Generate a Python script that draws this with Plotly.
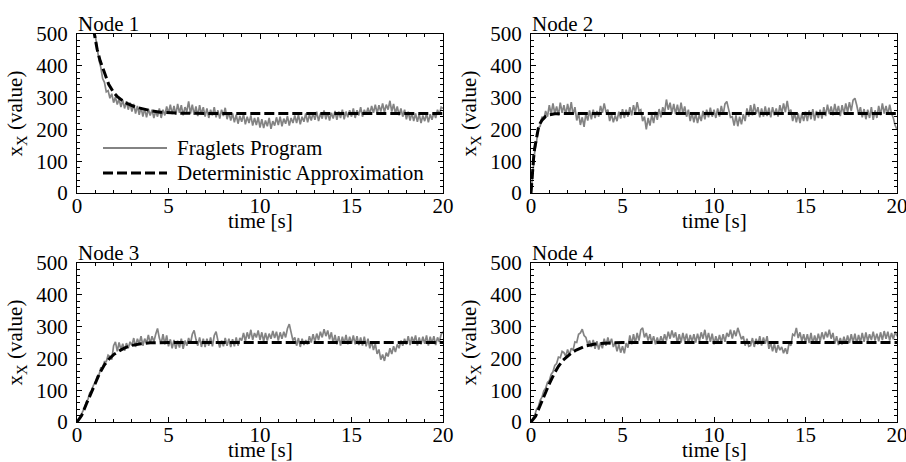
import plotly.graph_objects as go
from plotly.subplots import make_subplots

# sample times of the Fraglets program traces (0.1 s steps)
t_fraglets = [i / 10 for i in range(201)]

fraglets_node1 = [
    1000, 940, 880, 830, 780, 730, 680, 630, 580, 535,
    490, 458, 418, 395, 360, 348, 318, 322, 298, 312,
    284, 302, 278, 296, 270, 292, 266, 288, 262, 284,
    256, 280, 250, 274, 246, 270, 240, 266, 238, 264,
    244, 262, 236, 258, 240, 266, 236, 262, 244, 272,
    250, 278, 248, 274, 246, 280, 252, 276, 244, 270,
    256, 288, 250, 278, 246, 272, 242, 276, 248, 270,
    240, 266, 236, 262, 244, 270, 238, 260, 234, 262,
    242, 268, 232, 254, 228, 250, 222, 246, 218, 242,
    224, 248, 216, 240, 220, 244, 212, 236, 214, 238,
    206, 232, 204, 228, 210, 236, 202, 226, 212, 238,
    214, 240, 210, 234, 218, 242, 212, 236, 220, 244,
    220, 246, 216, 240, 224, 250, 222, 246, 228, 252,
    230, 256, 226, 250, 234, 260, 232, 254, 228, 252,
    234, 258, 230, 256, 236, 262, 232, 256, 238, 260,
    240, 266, 236, 260, 244, 270, 240, 262, 246, 268,
    248, 274, 252, 278, 250, 276, 256, 282, 254, 278,
    262, 290, 256, 280, 250, 272, 244, 266, 240, 262,
    232, 256, 228, 252, 226, 250, 224, 248, 220, 244,
    226, 250, 222, 248, 230, 254, 236, 262, 246, 270,
    266,
]

fraglets_node2 = [
    0, 60, 128, 160, 205, 210, 240, 232, 258, 240,
    276, 248, 282, 250, 272, 244, 284, 252, 276, 246,
    280, 250, 286, 246, 270, 228, 250, 214, 238, 208,
    250, 228, 260, 232, 262, 236, 258, 240, 274, 252,
    282, 254, 262, 226, 248, 222, 244, 226, 256, 234,
    264, 236, 262, 240, 270, 244, 276, 252, 286, 258,
    262, 226, 240, 200, 236, 212, 246, 220, 256, 230,
    264, 238, 270, 252, 294, 262, 284, 250, 280, 248,
    278, 246, 284, 250, 272, 240, 262, 226, 252, 222,
    250, 220, 246, 226, 258, 232, 262, 238, 268, 240,
    262, 236, 266, 240, 274, 246, 280, 288, 262, 238,
    240, 212, 244, 210, 240, 216, 248, 226, 266, 240,
    276, 244, 280, 248, 270, 238, 266, 240, 272, 242,
    268, 238, 270, 244, 266, 240, 276, 250, 282, 254,
    290, 254, 262, 226, 252, 222, 250, 220, 250, 226,
    256, 226, 260, 232, 264, 228, 258, 236, 262, 234,
    270, 242, 278, 248, 272, 244, 280, 250, 274, 242,
    276, 248, 282, 254, 286, 258, 292, 298, 276, 248,
    270, 238, 264, 232, 262, 236, 270, 230, 260, 236,
    274, 244, 282, 250, 274, 246, 278, 250, 236, 212,
    200,
]

fraglets_node3 = [
    0, 8, 14, 32, 42, 62, 72, 92, 98, 116,
    122, 144, 148, 170, 170, 190, 190, 210, 206, 196,
    240, 252, 222, 250, 228, 246, 224, 248, 232, 252,
    240, 264, 236, 262, 246, 270, 240, 262, 248, 274,
    246, 270, 252, 276, 294, 264, 246, 276, 244, 272,
    238, 260, 232, 258, 230, 256, 234, 262, 230, 256,
    240, 264, 246, 276, 288, 260, 240, 266, 236, 262,
    236, 262, 240, 266, 238, 272, 284, 256, 234, 256,
    238, 264, 240, 262, 236, 260, 238, 266, 240, 264,
    256, 280, 254, 282, 262, 290, 258, 280, 266, 288,
    258, 282, 254, 280, 256, 278, 262, 286, 264, 284,
    256, 282, 262, 284, 266, 294, 308, 282, 256, 266,
    240, 264, 236, 262, 242, 258, 244, 270, 250, 276,
    252, 278, 258, 284, 266, 292, 270, 288, 260, 282,
    248, 274, 244, 270, 240, 268, 246, 274, 244, 268,
    246, 272, 244, 270, 242, 266, 240, 268, 238, 262,
    232, 254, 226, 246, 214, 228, 196, 212, 192, 218,
    206, 232, 214, 238, 220, 244, 232, 256, 240, 262,
    244, 270, 242, 268, 250, 272, 240, 266, 244, 268,
    246, 272, 240, 268, 248, 270, 242, 266, 252, 276,
    284,
]

fraglets_node4 = [
    0, 12, 20, 40, 48, 68, 78, 98, 106, 124,
    130, 150, 158, 178, 184, 204, 202, 222, 218, 206,
    228, 210, 232, 226, 252, 250, 276, 280, 292, 272,
    266, 244, 256, 236, 258, 230, 254, 228, 250, 232,
    262, 240, 266, 244, 262, 236, 250, 222, 244, 218,
    238, 216, 248, 234, 272, 244, 276, 248, 280, 256,
    290, 296, 266, 280, 256, 276, 250, 270, 244, 266,
    246, 270, 250, 276, 256, 284, 262, 288, 266, 282,
    248, 276, 250, 280, 254, 278, 246, 274, 252, 276,
    250, 278, 254, 282, 262, 290, 256, 280, 252, 278,
    244, 270, 248, 274, 250, 276, 252, 280, 268, 290,
    262, 288, 270, 296, 278, 260, 270, 240, 262, 238,
    240, 264, 236, 262, 244, 270, 240, 266, 246, 270,
    230, 250, 222, 246, 218, 242, 226, 236, 216, 232,
    214, 248, 240, 276, 272, 296, 264, 282, 254, 276,
    250, 276, 248, 280, 246, 272, 250, 278, 254, 282,
    260, 284, 266, 290, 262, 280, 246, 270, 242, 264,
    244, 268, 246, 272, 248, 276, 250, 278, 246, 274,
    250, 280, 252, 282, 254, 276, 258, 284, 256, 278,
    254, 282, 258, 286, 262, 284, 256, 280, 260, 284,
    270,
]

# deterministic approximation
t_det1 = [0, 0.5, 0.7, 0.95, 1.1, 1.27, 1.5, 1.73, 2.0, 2.19, 2.45, 2.73, 3.2, 3.64, 4.1, 4.55, 5.5, 7, 20]
det_node1 = [1000, 680, 590, 500, 452, 415, 375, 342, 316, 304, 292, 282, 270, 263, 258, 254, 251, 250, 250]

t_det2 = [0, 0.05, 0.1, 0.15, 0.2, 0.3, 0.4, 0.5, 0.6, 0.8, 1.0, 1.3, 2, 20]
det_node2 = [0, 47, 85, 116, 141, 178, 203, 219, 229, 241, 246, 249, 250, 250]

t_det34 = [0, 0.25, 0.5, 0.75, 1.0, 1.25, 1.5, 1.75, 2.0, 2.25, 2.5, 2.75, 3.0, 3.5, 4.0, 5.0, 20]
det_node3 = [0, 20, 55, 90, 125, 155, 180, 198, 212, 222, 230, 236, 241, 246, 249, 250, 250]
det_node4 = [0, 18, 52, 88, 120, 150, 175, 194, 208, 219, 227, 234, 239, 245, 248, 250, 250]

node_titles = ["Node 1", "Node 2", "Node 3", "Node 4"]
legend_labels = ["Fraglets Program", "Deterministic Approximation"]
x_ticks = [0, 5, 10, 15, 20]
y_ticks = [0, 100, 200, 300, 400, 500]

fraglets = [fraglets_node1, fraglets_node2, fraglets_node3, fraglets_node4]
det_t = [t_det1, t_det2, t_det34, t_det34]
det_v = [det_node1, det_node2, det_node3, det_node4]

FONT = "Liberation Serif, Times New Roman, serif"
FS = 21
GRAY = "#838383"
W, H = 906, 462

fig = make_subplots(rows=2, cols=2)

for i in range(4):
    r, c = i // 2 + 1, i % 2 + 1
    fig.add_trace(go.Scatter(
        x=t_fraglets, y=fraglets[i], mode="lines",
        line=dict(color=GRAY, width=1.7),
        name=legend_labels[0], showlegend=False),
        row=r, col=c)
    fig.add_trace(go.Scatter(
        x=det_t[i], y=det_v[i], mode="lines",
        line=dict(color="black", width=3, dash="10px,4px"),
        name=legend_labels[1], showlegend=False),
        row=r, col=c)

# pixel-derived domains
x_doms = [(77, 443), (531, 897)]
y_doms = [(34, 193), (263, 422)]

axis_common = dict(
    showgrid=False, zeroline=False, showline=True, linecolor="black", linewidth=1,
    mirror="allticks", ticks="inside", ticklen=5, tickwidth=1, tickcolor="black",
    tickfont=dict(family=FONT, size=FS, color="black"),
    automargin=False, ticklabeloverflow="allow",
)

for i in range(4):
    r, c = i // 2, i % 2
    xd = x_doms[c]
    yd = y_doms[r]
    suf = "" if i == 0 else str(i + 1)
    fig.layout["xaxis" + suf].update(
        domain=[xd[0] / W, xd[1] / W], range=[0, 20], tickvals=x_ticks,
        minor=dict(dtick=1, ticks="inside", ticklen=3, tickcolor="black", showgrid=False),
        ticklabelstandoff=-6,
        **axis_common)
    fig.layout["yaxis" + suf].update(
        domain=[1 - yd[1] / H, 1 - yd[0] / H], range=[0, 500], tickvals=y_ticks,
        minor=dict(dtick=20, ticks="inside", ticklen=3, tickcolor="black", showgrid=False),
        ticklabelstandoff=4,
        title=dict(text="x<sub>X</sub> (value)", font=dict(family=FONT, size=FS, color="black"), standoff=7),
        **axis_common)
    # panel title
    fig.add_annotation(
        text=node_titles[i], xref=f"x{suf} domain", yref=f"y{suf} domain",
        x=0, y=1, xanchor="left", yanchor="bottom", showarrow=False,
        font=dict(family=FONT, size=FS, color="black"), borderpad=0, yshift=-3)
    # x axis title
    fig.add_annotation(
        text="time [s]", xref=f"x{suf} domain", yref=f"y{suf} domain",
        x=0.5, y=0, xanchor="center", yanchor="top", showarrow=False,
        font=dict(family=FONT, size=FS, color="black"), borderpad=0, yshift=-15)

# legend drawn inside panel 1
legend_rows = [(148, GRAY, 2, "solid"), (173, "black", 3, "10px,4px")]
for (yy, col, wd, ds), lab in zip(legend_rows, legend_labels):
    fig.add_shape(type="line", xref="paper", yref="paper",
                  x0=103 / W, x1=167 / W, y0=1 - yy / H, y1=1 - yy / H,
                  line=dict(color=col, width=wd, dash=ds))
    fig.add_annotation(text=lab, xref="paper", yref="paper",
                       x=176 / W, y=1 - yy / H, xanchor="left", yanchor="middle",
                       showarrow=False, borderpad=0,
                       font=dict(family=FONT, size=FS, color="black"))

fig.update_layout(
    width=W, height=H,
    margin=dict(l=0, r=0, t=0, b=0),
    paper_bgcolor="white", plot_bgcolor="white",
    font=dict(family=FONT, size=FS, color="black"),
    showlegend=False,
)

fig.write_html("out.html", config={"displayModeBar": False},
               post_script="document.body.style.margin='0px';")
